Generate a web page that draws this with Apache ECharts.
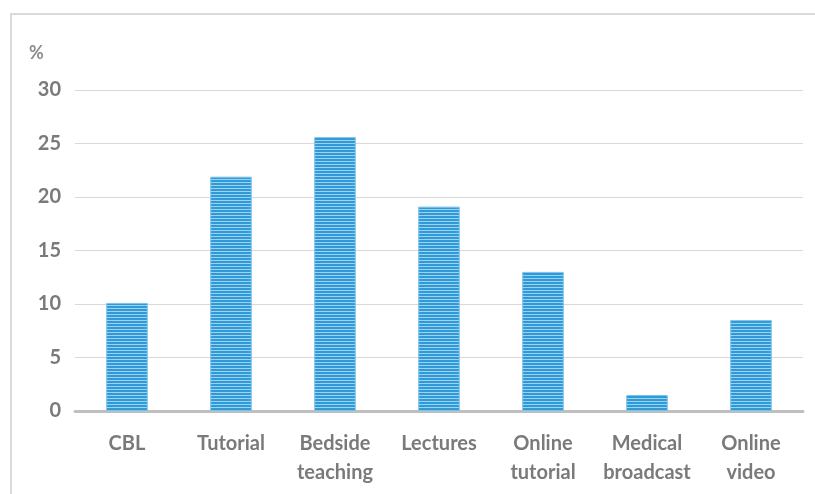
<!DOCTYPE html>
<html>
<head>
<meta charset="utf-8">
<script src="https://cdn.jsdelivr.net/npm/echarts@6/dist/echarts.min.js"></script>
<style>
  html, body { margin: 0; padding: 0; background: #fff; }
  #frame { position: absolute; left: 10px; top: 13px; width: 820px; height: 500px;
           border-left: 2px solid #d9d9d9; border-top: 2px solid #d9d9d9; }
  #chart { width: 815px; height: 494px; position: absolute; left: 0; top: 0; }
</style>
</head>
<body>
<div id="frame"></div>
<div id="chart"></div>
<script>
// categories and values
const categories = ["CBL", "Tutorial", "Bedside\nteaching", "Lectures", "Online\ntutorial", "Medical\nbroadcast", "Online\nvideo"];
const percent = [10.1, 21.9, 25.6, 19.1, 13.0, 1.5, 8.5];

// striped fill for the bars
function stripes() {
  const c = document.createElement("canvas");
  c.width = 4; c.height = 3;
  const ctx = c.getContext("2d");
  ctx.fillStyle = "#2f9ad8";
  ctx.fillRect(0, 0, 4, 2);
  ctx.fillStyle = "#9fd2f0";
  ctx.fillRect(0, 2, 4, 1);
  return c;
}

const chart = echarts.init(document.getElementById("chart"));
chart.setOption({
  animation: false,
  grid: { left: 75, right: 12, top: 90, bottom: 83 },
  graphic: [{
    type: "text", left: 29, top: 44,
    style: { text: "%", fill: "#8c8c8c", font: "bold 18px Lato" }
  }],
  xAxis: {
    type: "category",
    data: categories,
    axisLine: { lineStyle: { color: "#bfbfbf", width: 3 } },
    axisTick: { show: false },
    axisLabel: {
      color: "#7a7a7a", fontSize: 20, fontWeight: "bold",
      fontFamily: "Lato", lineHeight: 29, margin: 18, interval: 0
    }
  },
  yAxis: {
    type: "value",
    min: 0, max: 30, interval: 5,
    axisLine: { show: false },
    axisTick: { show: false },
    splitLine: { lineStyle: { color: "#d9d9d9", width: 1 } },
    axisLabel: {
      color: "#7a7a7a", fontSize: 20, fontWeight: "bold",
      fontFamily: "Lato", margin: 14
    }
  },
  series: [{
    type: "bar",
    data: percent,
    barWidth: "40%",
    itemStyle: {
      color: { image: stripes(), repeat: "repeat" },
      borderColor: "#7cc3ec", borderWidth: 1
    }
  }]
});
</script>
</body>
</html>
